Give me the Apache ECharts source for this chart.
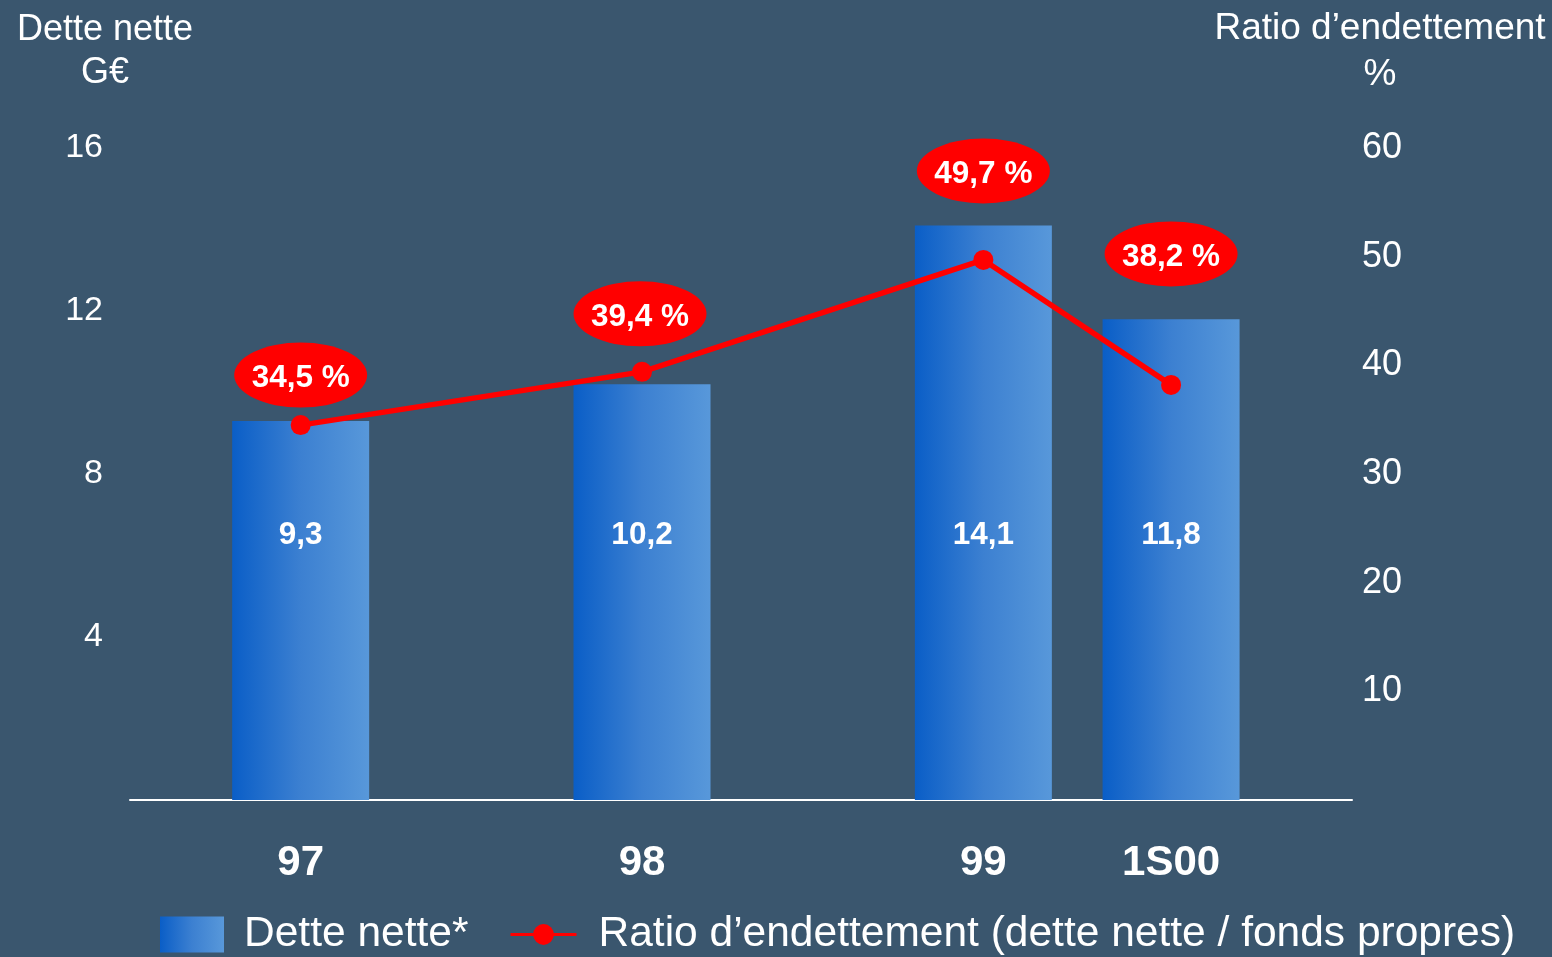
<!DOCTYPE html>
<html>
<head>
<meta charset="utf-8">
<title>Dette nette</title>
<script src="https://cdn.jsdelivr.net/npm/echarts@6/dist/echarts.min.js"></script>
<style>
  html, body { margin: 0; padding: 0; background: #3a566e; }
  #chart { width: 1552px; height: 957px; }
</style>
</head>
<body>
<div id="chart"></div>
<script>

var years = ['97', '98', '99', '1S00'];
var detteNette = [9.3, 10.2, 14.1, 11.8];
var ratio = [34.5, 39.4, 49.7, 38.2];

// where each period sits on the x scale (the last one is a half year, closer)
var slot = [0, 1, 2, 2.55];
// shift of the red badges from their points, px
var badgeOffset = [[0, -50], [-2, -58], [0, -89], [0, -131]];

var font = "'Liberation Sans', Arial, sans-serif";

function virgule(v) {
    return String(v).replace('.', ',');
}

var myChart = echarts.init(document.getElementById('chart'));

var barColor = new echarts.graphic.LinearGradient(0, 0, 1, 0, [
    {offset: 0, color: '#0a5ec7'},
    {offset: 0.5, color: '#3c80d1'},
    {offset: 1, color: '#5898da'}
]);

var option = {
    backgroundColor: '#3a566e',
    animation: false,
    textStyle: {fontFamily: font},
    grid: {left: 130, right: 200, top: 148, bottom: 157, containLabel: false},
    // left axis title, placed by hand (the axis name lands off to the right)
    graphic: [
        {
            type: 'text',
            x: 105,
            y: 52,
            style: {
                text: 'Dette nette\nG\u20ac',
                fill: '#fff',
                font: '36px ' + font,
                lineHeight: 43,
                textAlign: 'center',
                textVerticalAlign: 'middle'
            }
        }
    ],
    legend: [
        {
            data: [{name: 'Dette nette*', icon: 'rect'}],
            left: 160,
            top: 913,
            padding: 0,
            itemWidth: 64,
            itemHeight: 36,
            textStyle: {color: '#fff', fontSize: 42.5, fontFamily: font, padding: [0, 0, 0, 15]}
        },
        {
            data: [{name: 'Ratio d\u2019endettement (dette nette / fonds propres)', lineStyle: {width: 3}}],
            left: 509,
            top: 913,
            padding: 0,
            itemWidth: 66,
            itemHeight: 26,
            textStyle: {color: '#fff', fontSize: 42.5, fontFamily: font, padding: [0, 0, 0, 17]}
        }
    ],
    xAxis: {
        type: 'value',
        min: -0.5,
        max: 3.08,
        splitLine: {show: false},
        axisTick: {show: false},
        axisLine: {show: true, onZero: false, lineStyle: {color: '#fff', width: 2}},
        axisLabel: {
            customValues: slot,
            margin: 42,
            color: '#fff',
            fontSize: 42,
            fontWeight: 'bold',
            fontFamily: font,
            formatter: function (v) {
                return years[slot.indexOf(v)];
            }
        }
    },
    yAxis: [
        {
            type: 'value',
            min: 0,
            max: 16,
            interval: 4,
            splitLine: {show: false},
            axisLine: {show: false},
            axisTick: {show: false},
            axisLabel: {showMinLabel: false, margin: 27, color: '#fff', fontSize: 34, fontFamily: font}
        },
        {
            type: 'value',
            min: 0,
            max: 60,
            interval: 10,
            position: 'right',
            offset: 0,
            name: 'Ratio d\u2019endettement\n%',
            nameLocation: 'end',
            nameGap: 50,
            nameMoveOverlap: false,
            nameTextStyle: {color: '#fff', fontSize: 37, lineHeight: 46, align: 'center', padding: [0, 0, 0, 56], fontFamily: font},
            splitLine: {show: false},
            axisLine: {show: false},
            axisTick: {show: false},
            axisLabel: {showMinLabel: false, margin: 50, align: 'right', color: '#fff', fontSize: 36, fontFamily: font}
        }
    ],
    series: [
        {
            name: 'Dette nette*',
            type: 'bar',
            yAxisIndex: 0,
            barWidth: 137,
            data: detteNette.map(function (v, i) { return [slot[i], v]; }),
            itemStyle: {color: barColor},
            label: {
                show: true,
                position: 'insideBottom',
                distance: 249,
                color: '#fff',
                fontSize: 31.5,
                fontWeight: 'bold',
                fontFamily: font,
                formatter: function (p) { return virgule(p.value[1]); }
            }
        },
        {
            name: 'Ratio d\u2019endettement (dette nette / fonds propres)',
            type: 'line',
            yAxisIndex: 1,
            data: ratio.map(function (v, i) { return [slot[i], v]; }),
            symbol: 'circle',
            symbolSize: 20,
            lineStyle: {color: '#ff0000', width: 5.5},
            itemStyle: {color: '#ff0000'},
            z: 3,
            markPoint: {
                symbol: 'circle',
                symbolSize: [133, 65],
                itemStyle: {color: '#ff0000'},
                label: {
                    show: true,
                    color: '#fff',
                    fontSize: 31.5,
                    fontWeight: 'bold',
                    fontFamily: font,
                    offset: [0, 3],
                    formatter: function (p) { return virgule(p.value) + ' %'; }
                },
                data: ratio.map(function (v, i) {
                    return {coord: [slot[i], v], value: v, symbolOffset: badgeOffset[i]};
                })
            }
        }
    ]
};

myChart.setOption(option);
</script>
</body>
</html>
